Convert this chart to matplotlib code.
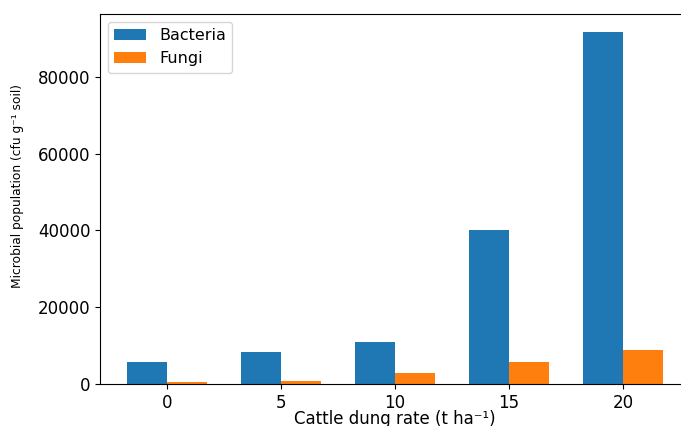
import numpy as np
import matplotlib.pyplot as plt

rates = ['0', '5', '10', '15', '20']
bacteria = [5800, 8400, 10900, 40200, 91800]
fungi = [600, 800, 2800, 5800, 8900]

x = np.arange(len(rates))
width = 0.35

fig = plt.figure(figsize=(6.81, 4.26), dpi=100)
ax = fig.add_axes([100 / 681, 42 / 426, 590 / 681, 370 / 426])

ax.bar(x - width / 2, bacteria, width, label='Bacteria', color='#1f77b4')
ax.bar(x + width / 2, fungi, width, label='Fungi', color='#ff7f0e')

ax.set_xticks(x)
ax.set_xticklabels(rates)
ax.tick_params(labelsize=12)
ax.spines['right'].set_visible(False)
ax.set_xlabel('Cattle dung rate (t ha⁻¹)', fontsize=12, labelpad=-1)
ax.set_ylabel('Microbial population (cfu g⁻¹ soil)', fontsize=8.8)
ax.yaxis.set_label_coords(-0.128, 0.535)
ax.legend(fontsize=11.5, loc='upper left')

fig.savefig('out.png', dpi=100)
